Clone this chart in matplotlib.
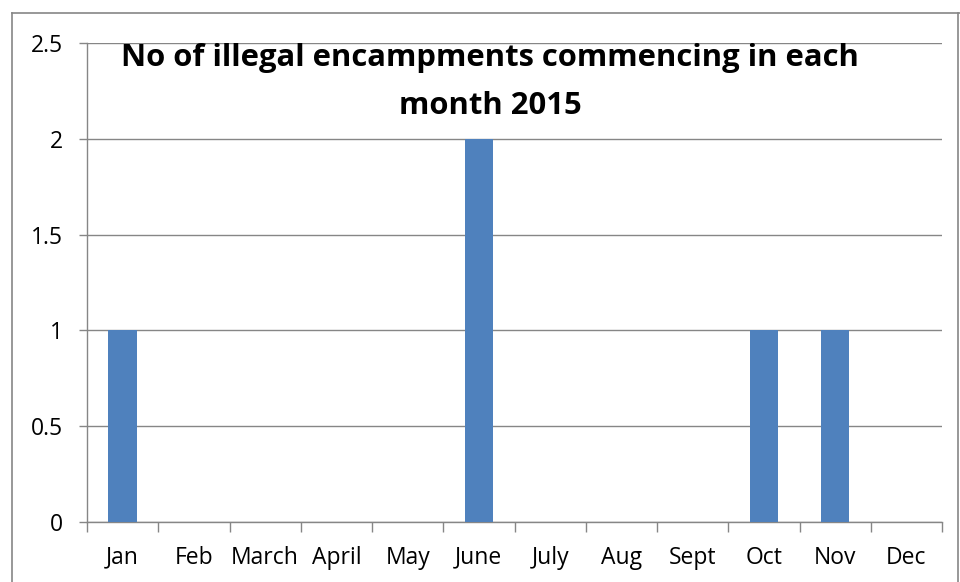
import matplotlib.pyplot as plt
from matplotlib.lines import Line2D
import numpy as np

months = ["Jan", "Feb", "March", "April", "May", "June", "July",
          "Aug", "Sept", "Oct", "Nov", "Dec"]
counts = [1, 0, 0, 0, 0, 2, 0, 0, 0, 1, 1, 0]
y_ticks = [0, 0.5, 1, 1.5, 2, 2.5]
y_labels = ["0", "0.5", "1", "1.5", "2", "2.5"]
title_lines = ["No of illegal encampments commencing in each", "month 2015"]

plt.rcParams['font.family'] = ['Open Sans', 'DejaVu Sans']
grey = '#868686'

fig = plt.figure(figsize=(9.6, 5.82), dpi=100)
ax = fig.add_axes([87 / 960, 1 - 522 / 582, (942 - 87) / 960, (522 - 43) / 582])

x = np.arange(len(months))
ax.bar(x, counts, width=0.4, color='#4F81BD', zorder=3)

ax.set_xlim(-0.5, len(months) - 0.5)
ax.set_ylim(0, 2.5)
ax.set_yticks(y_ticks)
ax.set_yticklabels(y_labels)
ax.set_xticks(x)
ax.set_xticklabels(months)
ax.set_xticks(np.arange(len(months) + 1) - 0.5, minor=True)

ax.grid(axis='y', color=grey, linewidth=1, zorder=0)
for s in ['top', 'right']:
    ax.spines[s].set_visible(False)
for s in ['left', 'bottom']:
    ax.spines[s].set_color(grey)
    ax.spines[s].set_linewidth(1)

ax.tick_params(axis='y', length=6, color=grey, width=1, pad=11, labelsize=16.5)
ax.tick_params(axis='x', which='major', length=0, pad=17, labelsize=16.5)
ax.tick_params(axis='x', which='minor', length=7, color=grey, width=1)

fig.text(490 / 960, 1 - 58 / 582, title_lines[0],
         ha='center', va='center', fontsize=22.3, fontweight='bold')
fig.text(490 / 960, 1 - 106 / 582, title_lines[1],
         ha='center', va='center', fontsize=22.3, fontweight='bold')

# outer chart border
for xs, ys in [([11.5, 11.5], [0, 569]), ([11.5, 960], [569, 569]), ([957.5, 957.5], [0, 569])]:
    fig.add_artist(Line2D([v / 960 for v in xs], [v / 582 for v in ys],
                          color=grey, linewidth=1.2, transform=fig.transFigure))

fig.savefig('out.png', dpi=100)
